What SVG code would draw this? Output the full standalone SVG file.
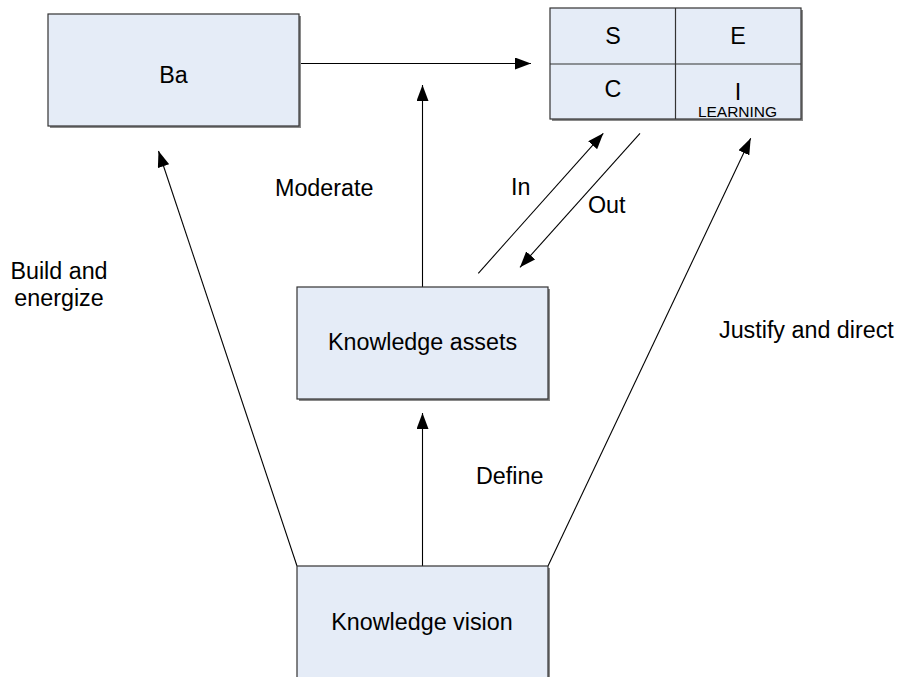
<svg xmlns="http://www.w3.org/2000/svg" width="899" height="677" viewBox="0 0 899 677">
<style>
.box{fill:#E5ECF7;stroke:#333;stroke-width:1.2}
.sh{fill:#8a8a8a}
.t{font-family:"Liberation Sans",Arial,sans-serif;font-size:23.3px;fill:#000}
.c{text-anchor:middle}
.sm{font-family:"Liberation Sans",Arial,sans-serif;font-size:15.5px;fill:#000;text-anchor:middle}
.ln{stroke:#000;stroke-width:1.1;fill:none;marker-end:url(#ah)}
</style>
<defs>
<marker id="ah" markerUnits="userSpaceOnUse" markerWidth="16" markerHeight="12" refX="16" refY="6" orient="auto">
<path d="M0,0 L16,6 L0,12 z" fill="#000"/>
</marker>
</defs>
<rect width="899" height="677" fill="#fff"/>
<g id="connectors">
<line class="ln" x1="299" y1="63.5" x2="531" y2="63.5"/>
<line class="ln" x1="422.5" y1="287" x2="422.5" y2="85"/>
<line class="ln" x1="478.3" y1="273.3" x2="603.3" y2="133.3"/>
<line class="ln" x1="640" y1="133.3" x2="520" y2="267.3"/>
<line class="ln" x1="297" y1="566" x2="158.5" y2="151"/>
<line class="ln" x1="548" y1="566" x2="750.7" y2="138.3"/>
<line class="ln" x1="422.5" y1="566" x2="422.5" y2="413"/>
</g>
<g id="ba">
<rect class="sh" x="50" y="16" width="251" height="112"/>
<rect class="box" x="48" y="14" width="251" height="112"/>
<text class="t c" x="173.5" y="83">Ba</text>
</g>
<g id="seci">
<rect class="sh" x="552" y="10" width="251" height="111"/>
<rect class="box" x="550" y="8" width="251" height="111"/>
<line x1="675.5" y1="8" x2="675.5" y2="119" stroke="#333" stroke-width="1.2"/>
<line x1="550" y1="64" x2="801" y2="64" stroke="#333" stroke-width="1.2"/>
<text class="t c" x="613" y="44">S</text>
<text class="t c" x="738" y="44">E</text>
<text class="t c" x="613" y="97">C</text>
<text class="t c" x="738" y="100">I</text>
<text class="sm" x="737.5" y="117">LEARNING</text>
</g>
<g id="knowledge-assets">
<rect class="sh" x="299" y="289" width="251" height="112"/>
<rect class="box" x="297" y="287" width="251" height="112"/>
<text class="t c" x="422.5" y="350">Knowledge assets</text>
</g>
<g id="knowledge-vision">
<rect class="sh" x="299" y="568" width="251" height="112"/>
<rect class="box" x="297" y="566" width="251" height="112"/>
<text class="t c" x="422" y="630">Knowledge vision</text>
</g>
<g id="labels">
<text class="t" x="275" y="196">Moderate</text>
<text class="t" x="511" y="195">In</text>
<text class="t" x="588" y="213">Out</text>
<text class="t c" x="59" y="279">Build and</text>
<text class="t c" x="59" y="306">energize</text>
<text class="t" x="476" y="484">Define</text>
<text class="t" x="719" y="338">Justify and direct</text>
</g>
</svg>
